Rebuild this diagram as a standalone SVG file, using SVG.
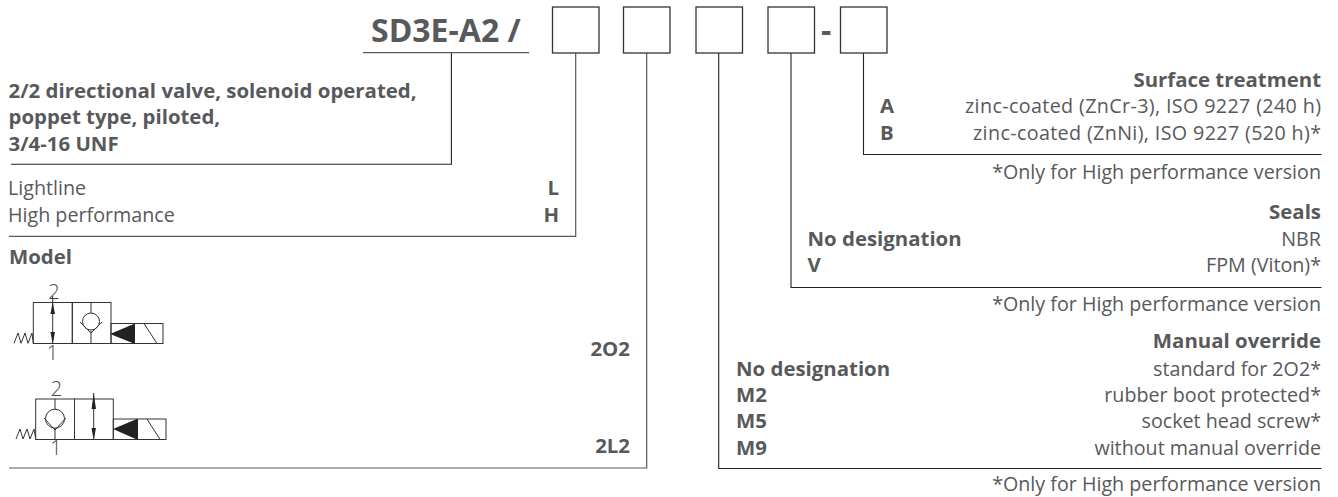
<svg xmlns="http://www.w3.org/2000/svg" width="1338" height="497" viewBox="0 0 1338 497">
<style>
text{font-family:"Open Sans","Noto Sans",sans-serif;font-size:19.700px;fill:#58595b}
.b{font-weight:700;font-size:20.400px}
.t{font-weight:700;font-size:32px}
.e{text-anchor:end}
.l{fill:none;stroke:#58595b;stroke-width:1.2}
.k{fill:none;stroke:#222;stroke-width:1.1}
.box{fill:#fff;stroke:#333;stroke-width:1.3}
.s{fill:none;stroke:#333;stroke-width:1}
.f{fill:#222;stroke:none}
.n{font-size:20px;font-weight:300;fill:#444;text-anchor:middle}
</style>
<rect width="1338" height="497" fill="#fff"/>
<g id="connectors">
<path class="l" d="M363 52.700H529"/>
<path class="k" d="M451.400 53V164.300H11"/>
<path class="l" d="M575.700 53V236.300H9"/>
<path class="l" d="M646.700 53V468H9"/>
<path class="k" d="M718.700 53V468.500H1321.500"/>
<path class="k" d="M791 53V287.500H1321.500"/>
<path class="k" d="M863.500 53V154.500H1321.500"/>
</g>
<g id="title"><text class="t" x="371" y="41.700">SD3E-A2 /</text></g>
<g id="box1"><rect class="box" x="552.500" y="7" width="46.500" height="46"/></g>
<g id="box2"><rect class="box" x="623.500" y="7" width="46.500" height="46"/></g>
<g id="box3"><rect class="box" x="696" y="7" width="46.500" height="46"/></g>
<g id="box4"><rect class="box" x="768" y="7" width="46.500" height="46"/></g>
<text class="t" x="821" y="41.700">-</text>
<g id="box5"><rect class="box" x="840.500" y="7" width="46.500" height="46"/></g>
<g id="desc">
<text class="b" x="8.500" y="97.700">2/2 directional valve, solenoid operated,</text>
<text class="b" x="8.500" y="124.300">poppet type, piloted,</text>
<text class="b" x="8.500" y="151">3/4-16 UNF</text>
</g>
<g id="version">
<text x="8" y="195">Lightline</text>
<text x="8" y="221.700">High performance</text>
<text class="b e" x="559" y="195">L</text>
<text class="b e" x="559" y="221.700">H</text>
</g>
<g id="model">
<text class="b" x="9" y="264">Model</text>
<text class="b e" x="630" y="356">2O2</text>
<text class="b e" x="630" y="452.700">2L2</text>
</g>
<g id="symbol-2O2">
<text class="n" x="54" y="299">2</text>
<text class="n" x="52.500" y="360">1</text>
<rect class="s" x="33.300" y="302.500" width="39" height="41"/>
<rect class="s" x="72.300" y="302.500" width="38.700" height="41"/>
<rect class="s" x="111" y="323.500" width="52" height="20"/>
<path class="s" d="M52.700 296V343.500M91 302.500V313M91 331V343.500M80 322L91 333L102 322M144 323.500L157 343.500M14 343.300L18 333L21 343.300L25 333L28 343.300L32 333L33.300 343.300"/>
<circle class="s" cx="91" cy="321.500" r="8.500"/>
<path class="f" d="M110 334L135 323.500V344ZM52.700 302L50.500 314H55ZM52.700 344L50.500 332H55Z"/>
</g>
<g id="symbol-2L2">
<text class="n" x="56.500" y="396">2</text>
<text class="n" x="56" y="455">1</text>
<rect class="s" x="35.700" y="399" width="38.800" height="40.500"/>
<rect class="s" x="74.500" y="399" width="38.800" height="40.500"/>
<rect class="s" x="113.300" y="419" width="52.700" height="20.500"/>
<path class="s" d="M55 399V409M55 428V439.500M93.700 393V439.500M44 418L55 430L66 418M147 419L160 439.500M16 439L20 429L23 439L27 429L30 439L34 429L35.700 439"/>
<circle class="s" cx="55" cy="418.700" r="9.500"/>
<path class="f" d="M113 429L138 418.500V440ZM93.700 393L91.500 409H96ZM93.700 440L91.500 428H96Z"/>
</g>
<g id="surface">
<text class="b e" x="1321" y="86.700">Surface treatment</text>
<text class="b" x="880" y="113.300">A</text>
<text class="b" x="880" y="140">B</text>
<text class="e" x="1321" y="113.300" textLength="356">zinc-coated (ZnCr-3), ISO 9227 (240 h)</text>
<text class="e" x="1321" y="140" textLength="348">zinc-coated (ZnNi), ISO 9227 (520 h)*</text>
<text class="e" x="1321" y="179">*Only for High performance version</text>
</g>
<g id="seals">
<text class="b e" x="1321" y="219">Seals</text>
<text class="b" x="807.500" y="245.700">No designation</text>
<text class="b" x="807.500" y="272.300">V</text>
<text class="e" x="1321" y="245.700">NBR</text>
<text class="e" x="1321" y="272.300">FPM (Viton)*</text>
<text class="e" x="1321" y="310.700">*Only for High performance version</text>
</g>
<g id="override">
<text class="b e" x="1321" y="348.300">Manual override</text>
<text class="b" x="736" y="375.700">No designation</text>
<text class="b" x="736" y="401.700">M2</text>
<text class="b" x="736" y="428.300">M5</text>
<text class="b" x="736" y="455">M9</text>
<text class="e" x="1321" y="375.700">standard for 2O2*</text>
<text class="e" x="1321" y="401.700">rubber boot protected*</text>
<text class="e" x="1321" y="428.300">socket head screw*</text>
<text class="e" x="1321" y="455">without manual override</text>
<text class="e" x="1321" y="491">*Only for High performance version</text>
</g>
</svg>
